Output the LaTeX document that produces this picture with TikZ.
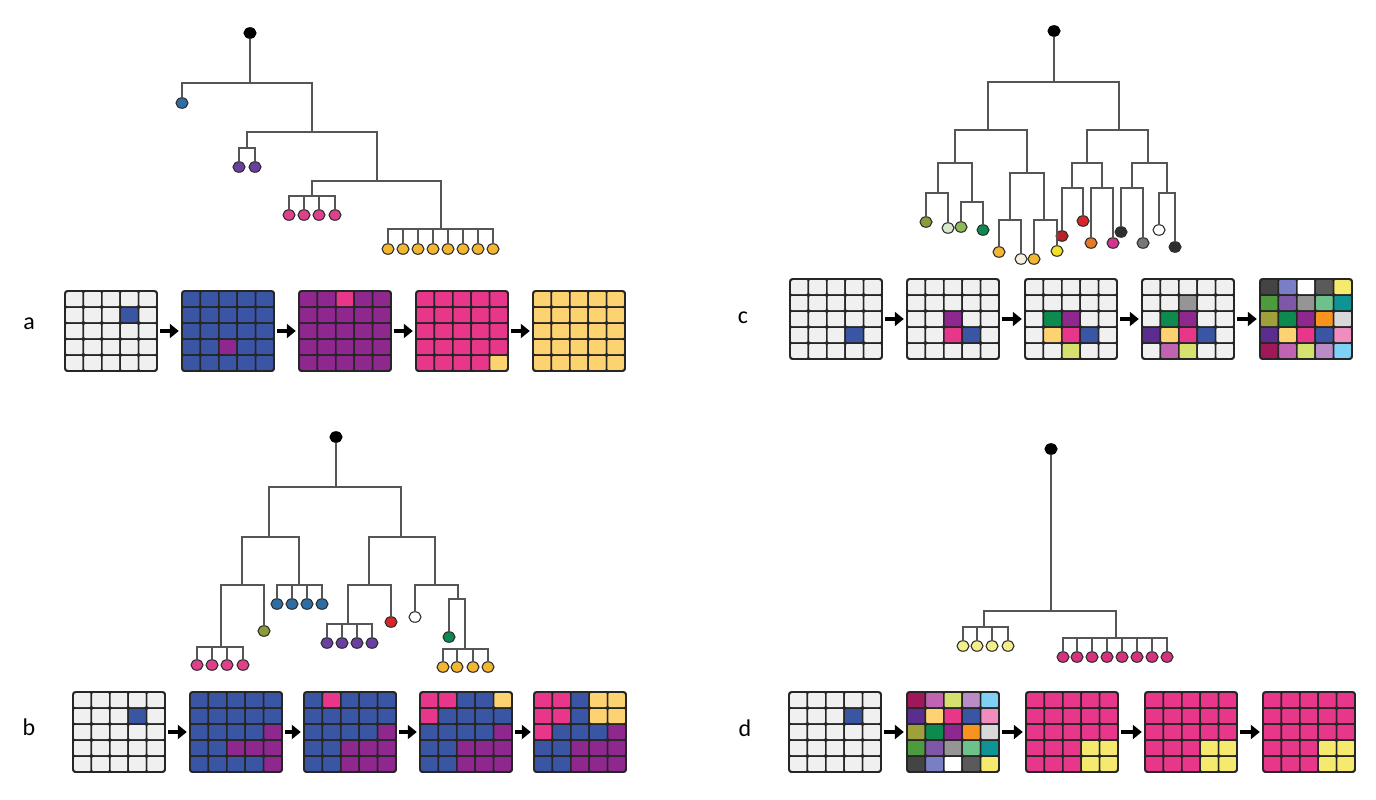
\documentclass[tikz,border=0pt]{standalone}
\usepackage{fontspec}
\setmainfont{Carlito}
\usetikzlibrary{arrows.meta,shapes.geometric}
\definecolor{cW}{HTML}{F0F0F0}
\definecolor{cB}{HTML}{3A55A4}
\definecolor{cP}{HTML}{8E278E}
\definecolor{cK}{HTML}{E8368A}
\definecolor{cO}{HTML}{FDD271}
\definecolor{cY}{HTML}{F5E96E}
\definecolor{cG}{HTML}{0D8A4E}
\definecolor{cL}{HTML}{D5E06E}
\definecolor{cR}{HTML}{959595}
\definecolor{cV}{HTML}{5B2D8E}
\definecolor{cM}{HTML}{C063B0}
\definecolor{cD}{HTML}{444444}
\definecolor{cJ}{HTML}{5A5A5A}
\definecolor{cA}{HTML}{7A7FC5}
\definecolor{cE}{HTML}{FFFFFF}
\definecolor{cF}{HTML}{4E9A3E}
\definecolor{cU}{HTML}{7E57A8}
\definecolor{cH}{HTML}{6CC28A}
\definecolor{cT}{HTML}{0E9494}
\definecolor{cI}{HTML}{9EA03A}
\definecolor{cN}{HTML}{F7931E}
\definecolor{cQ}{HTML}{D9D9D9}
\definecolor{cS}{HTML}{EE8DBE}
\definecolor{cZ}{HTML}{A0185A}
\definecolor{cC}{HTML}{B98CC8}
\definecolor{cX}{HTML}{7FD0F5}
% leaf colours
\definecolor{lBlue}{HTML}{2E6DA4}
\definecolor{lPurp}{HTML}{6B3FA0}
\definecolor{lPink}{HTML}{E0408A}
\definecolor{lGold}{HTML}{F2B630}
\definecolor{lOlive}{HTML}{8C9A3A}
\definecolor{lRed}{HTML}{D7262B}
\definecolor{lDRed}{HTML}{B8222A}
\definecolor{lGreen}{HTML}{0D8A4E}
\definecolor{lLGreen}{HTML}{8DBB5A}
\definecolor{lPale}{HTML}{D7E8CC}
\definecolor{lCream}{HTML}{F5F0E0}
\definecolor{lYel}{HTML}{F2E02C}
\definecolor{lOrange}{HTML}{E8782A}
\definecolor{lMag}{HTML}{D1338F}
\definecolor{lDark}{HTML}{2F2F2F}
\definecolor{lGrey}{HTML}{777777}
\definecolor{lPYel}{HTML}{F2EE8A}
\definecolor{lDPink}{HTML}{D6337F}
\definecolor{treeline}{HTML}{555555}
\definecolor{cellline}{HTML}{262626}

\newcommand{\cellgrid}[4]{%
  \node[gridbox] (#1) at (#2+46,#3+40) {};
  \foreach \qc [count=\qi from 0] in {#4}{%
    \pgfmathtruncatemacro\qr{\qi/5}%
    \pgfmathtruncatemacro\qk{mod(\qi,5)}%
    \draw[cell, fill=c\qc] ({#2+\qk*18.4},{#3+\qr*16}) rectangle ++(18.4,16);
  }
  \draw[gridout] (#2,#3) rectangle ++(92,80);
}

\begin{document}
\begin{tikzpicture}[x=1pt,y=-1pt,
  gridbox/.style={rectangle,minimum width=92pt,minimum height=80pt,inner sep=0pt},
  cell/.style={draw=cellline,line width=1.5pt,rounded corners=2pt},
  gridout/.style={draw=cellline,line width=1.8pt,rounded corners=3pt},
  flow/.style={-{Triangle[length=9pt,width=14pt]},line width=4.5pt,shorten <=3pt,shorten >=3pt},
  tl/.style={draw=treeline,line width=1.1pt},
  leaf/.style={ellipse,minimum width=12pt,minimum height=10.5pt,inner sep=0pt,draw=lDark,line width=1.1pt},
  root/.style={leaf,fill=black,draw=black},
  lab/.style={font=\fontsize{24}{28}\selectfont,inner sep=0pt}]
\useasboundingbox (0,0) rectangle (1376,800);

% ================= labels
\node[lab] (la) at (29,324) {a};
\node[lab] (lc) at (743,318) {c};
\node[lab] (lb) at (29,727) {b};
\node[lab] (ld) at (745,728) {d};

% ================= panel a grids
\cellgrid{a1}{65}{291}{W,W,W,W,W, W,W,W,B,W, W,W,W,W,W, W,W,W,W,W, W,W,W,W,W}
\cellgrid{a2}{182}{291}{B,B,B,B,B, B,B,B,B,B, B,B,B,B,B, B,B,P,B,B, B,B,B,B,B}
\cellgrid{a3}{299}{291}{P,P,K,P,P, P,P,P,P,P, P,P,P,P,P, P,P,P,P,P, P,P,P,P,P}
\cellgrid{a4}{416}{291}{K,K,K,K,K, K,K,K,K,K, K,K,K,K,K, K,K,K,K,K, K,K,K,K,O}
\cellgrid{a5}{533}{291}{O,O,O,O,O, O,O,O,O,O, O,O,O,O,O, O,O,O,O,O, O,O,O,O,O}
\draw[flow] (a1.east) -- (a2.west);
\draw[flow] (a2.east) -- (a3.west);
\draw[flow] (a3.east) -- (a4.west);
\draw[flow] (a4.east) -- (a5.west);

% ================= panel c grids
\cellgrid{c1}{790}{279}{W,W,W,W,W, W,W,W,W,W, W,W,W,W,W, W,W,W,B,W, W,W,W,W,W}
\cellgrid{c2}{907}{279}{W,W,W,W,W, W,W,W,W,W, W,W,P,W,W, W,W,K,B,W, W,W,W,W,W}
\cellgrid{c3}{1025}{279}{W,W,W,W,W, W,W,W,W,W, W,G,P,W,W, W,O,K,B,W, W,W,L,W,W}
\cellgrid{c4}{1142}{279}{W,W,W,W,W, W,W,R,W,W, W,G,P,W,W, V,O,K,B,W, W,M,L,W,W}
\cellgrid{c5}{1260}{279}{D,A,E,J,Y, F,U,R,H,T, I,G,P,N,Q, V,O,K,B,S, Z,M,L,C,X}
\draw[flow] (c1.east) -- (c2.west);
\draw[flow] (c2.east) -- (c3.west);
\draw[flow] (c3.east) -- (c4.west);
\draw[flow] (c4.east) -- (c5.west);

% ================= panel b grids
\cellgrid{b1}{73}{692}{W,W,W,W,W, W,W,W,B,W, W,W,W,W,W, W,W,W,W,W, W,W,W,W,W}
\cellgrid{b2}{190}{692}{B,B,B,B,B, B,B,B,B,B, B,B,B,B,P, B,B,P,P,P, B,B,B,B,P}
\cellgrid{b3}{304}{692}{B,K,B,B,B, B,B,B,B,B, B,B,B,B,P, B,B,P,P,P, B,B,P,P,P}
\cellgrid{b4}{420}{692}{K,K,B,B,O, K,B,B,B,B, B,B,B,B,P, B,B,P,P,P, B,B,P,P,P}
\cellgrid{b5}{534}{692}{K,K,B,O,O, K,K,B,O,O, K,B,B,B,P, B,B,P,P,P, B,B,P,P,P}
\draw[flow] (b1.east) -- (b2.west);
\draw[flow] (b2.east) -- (b3.west);
\draw[flow] (b3.east) -- (b4.west);
\draw[flow] (b4.east) -- (b5.west);

% ================= panel d grids
\cellgrid{d1}{789}{692}{W,W,W,W,W, W,W,W,B,W, W,W,W,W,W, W,W,W,W,W, W,W,W,W,W}
\cellgrid{d2}{907}{692}{Z,M,L,C,X, V,O,K,B,S, I,G,P,N,Q, F,U,R,H,T, D,A,E,J,Y}
\cellgrid{d3}{1026}{692}{K,K,K,K,K, K,K,K,K,K, K,K,K,K,K, K,K,K,Y,Y, K,K,K,Y,Y}
\cellgrid{d4}{1145}{692}{K,K,K,K,K, K,K,K,K,K, K,K,K,K,K, K,K,K,Y,Y, K,K,K,Y,Y}
\cellgrid{d5}{1263}{692}{K,K,K,K,K, K,K,K,K,K, K,K,K,K,K, K,K,K,Y,Y, K,K,K,Y,Y}
\draw[flow] (d1.east) -- (d2.west);
\draw[flow] (d2.east) -- (d3.west);
\draw[flow] (d3.east) -- (d4.west);
\draw[flow] (d4.east) -- (d5.west);

% ================= tree a
\node[root] (ar) at (250,33) {};
\coordinate (a0) at (250,83);
\coordinate (aA1) at (312,132);
\coordinate (aA2) at (247,148);
\coordinate (aA3) at (377,181);
\coordinate (aA4) at (312,196);
\coordinate (aA5) at (441,229);
\node[leaf,fill=lBlue] (aL1) at (182,103) {};
\node[leaf,fill=lPurp] (aP1) at (239,167) {};
\node[leaf,fill=lPurp] (aP2) at (255,167) {};
\foreach \x [count=\n] in {289,304,319,335}
  \node[leaf,fill=lPink] (aK\n) at (\x,215) {};
\foreach \x [count=\n] in {388,403,418,433,448,463,478,493}
  \node[leaf,fill=lGold] (aY\n) at (\x,249) {};
\draw[tl] (ar) -- (a0);
\draw[tl] (aL1) |- (a0);
\draw[tl] (aA1) |- (a0);
\draw[tl] (aA2) |- (aA1);
\draw[tl] (aA3) |- (aA1);
\draw[tl] (aP1) |- (aA2);
\draw[tl] (aP2) |- (aA2);
\draw[tl] (aA4) |- (aA3);
\draw[tl] (aA5) |- (aA3);
\foreach \n in {1,...,4} \draw[tl] (aK\n) |- (aA4);
\foreach \n in {1,...,8} \draw[tl] (aY\n) |- (aA5);

% ================= tree c
\node[root] (cr) at (1054,31) {};
\coordinate (c0) at (1054,82);
\coordinate (cL) at (988,130);
\coordinate (cR) at (1119,130);
\coordinate (cLL) at (955,163);
\coordinate (cLR) at (1027,173);
\coordinate (cLLL) at (938,193);
\coordinate (cLLR) at (972,202);
\coordinate (cLRL) at (1010,220);
\coordinate (cLRR) at (1044,220);
\coordinate (cRL) at (1087,163);
\coordinate (cRR) at (1148,163);
\coordinate (cRLL) at (1072,188);
\coordinate (cRLR) at (1102,188);
\coordinate (cRRL) at (1132,188);
\coordinate (cRRR) at (1167,193);
\node[leaf,fill=lOlive] (cl1) at (926,222) {};
\node[leaf,fill=lPale] (cl2) at (948,228) {};
\node[leaf,fill=lLGreen] (cl3) at (961,227) {};
\node[leaf,fill=lGreen] (cl4) at (983,230) {};
\node[leaf,fill=lGold] (cl5) at (999,252) {};
\node[leaf,fill=lCream] (cl6) at (1021,259) {};
\node[leaf,fill=lGold] (cl7) at (1034,259) {};
\node[leaf,fill=lYel] (cl8) at (1057,251) {};
\node[leaf,fill=lDRed] (cl9) at (1062,236) {};
\node[leaf,fill=lRed] (cl10) at (1083,221) {};
\node[leaf,fill=lOrange] (cl11) at (1091,243) {};
\node[leaf,fill=lMag] (cl12) at (1113,243) {};
\node[leaf,fill=lDark] (cl13) at (1121,232) {};
\node[leaf,fill=lGrey] (cl14) at (1143,243) {};
\node[leaf,fill=white] (cl15) at (1159,230) {};
\node[leaf,fill=lDark] (cl16) at (1175,247) {};
\draw[tl] (cr) -- (c0);
\draw[tl] (cL) |- (c0);  \draw[tl] (cR) |- (c0);
\draw[tl] (cLL) |- (cL); \draw[tl] (cLR) |- (cL);
\draw[tl] (cRL) |- (cR); \draw[tl] (cRR) |- (cR);
\draw[tl] (cLLL) |- (cLL); \draw[tl] (cLLR) |- (cLL);
\draw[tl] (cLRL) |- (cLR); \draw[tl] (cLRR) |- (cLR);
\draw[tl] (cRLL) |- (cRL); \draw[tl] (cRLR) |- (cRL);
\draw[tl] (cRRL) |- (cRR); \draw[tl] (cRRR) |- (cRR);
\draw[tl] (cl1) |- (cLLL); \draw[tl] (cl2) |- (cLLL);
\draw[tl] (cl3) |- (cLLR); \draw[tl] (cl4) |- (cLLR);
\draw[tl] (cl5) |- (cLRL); \draw[tl] (cl6) |- (cLRL);
\draw[tl] (cl7) |- (cLRR); \draw[tl] (cl8) |- (cLRR);
\draw[tl] (cl9) |- (cRLL); \draw[tl] (cl10) |- (cRLL);
\draw[tl] (cl11) |- (cRLR); \draw[tl] (cl12) |- (cRLR);
\draw[tl] (cl13) |- (cRRL); \draw[tl] (cl14) |- (cRRL);
\draw[tl] (cl15) |- (cRRR); \draw[tl] (cl16) |- (cRRR);

% ================= tree b
\node[root] (br) at (336,437) {};
\coordinate (b0) at (336,487);
\coordinate (bL) at (269,537);
\coordinate (bR) at (401,537);
\coordinate (bLL) at (242,585);
\coordinate (bLR) at (299,585);
\coordinate (bLLL) at (221,647);
\coordinate (bRL) at (369,585);
\coordinate (bRR) at (435,585);
\coordinate (bRLL) at (348,624);
\coordinate (bRRR) at (458,599);
\coordinate (bRRRR) at (465,649);
\foreach \x [count=\n] in {197,212,227,243}
  \node[leaf,fill=lPink] (bK\n) at (\x,665) {};
\node[leaf,fill=lOlive] (bOl) at (264,631) {};
\foreach \x [count=\n] in {277,292,307,322}
  \node[leaf,fill=lBlue] (bB\n) at (\x,604) {};
\foreach \x [count=\n] in {327,342,357,372}
  \node[leaf,fill=lPurp] (bP\n) at (\x,643) {};
\node[leaf,fill=lRed] (bRd) at (391,622) {};
\node[leaf,fill=white] (bWh) at (415,617) {};
\node[leaf,fill=lGreen] (bGr) at (449,637) {};
\foreach \x [count=\n] in {443,457,473,488}
  \node[leaf,fill=lGold] (bY\n) at (\x,667) {};
\draw[tl] (br) -- (b0);
\draw[tl] (bL) |- (b0); \draw[tl] (bR) |- (b0);
\draw[tl] (bLL) |- (bL); \draw[tl] (bLR) |- (bL);
\draw[tl] (bRL) |- (bR); \draw[tl] (bRR) |- (bR);
\draw[tl] (bLLL) |- (bLL); \draw[tl] (bOl) |- (bLL);
\foreach \n in {1,...,4} \draw[tl] (bK\n) |- (bLLL);
\foreach \n in {1,...,4} \draw[tl] (bB\n) |- (bLR);
\draw[tl] (bRLL) |- (bRL); \draw[tl] (bRd) |- (bRL);
\foreach \n in {1,...,4} \draw[tl] (bP\n) |- (bRLL);
\draw[tl] (bWh) |- (bRR); \draw[tl] (bRRR) |- (bRR);
\draw[tl] (bGr) |- (bRRR); \draw[tl] (bRRRR) |- (bRRR);
\foreach \n in {1,...,4} \draw[tl] (bY\n) |- (bRRRR);

% ================= tree d
\node[root] (dr) at (1051,449) {};
\coordinate (d0) at (1051,611);
\coordinate (dL) at (984,627);
\coordinate (dR) at (1116,638);
\foreach \x [count=\n] in {963,977,992,1008}
  \node[leaf,fill=lPYel] (dY\n) at (\x,646) {};
\foreach \x [count=\n] in {1063,1077,1092,1107,1122,1137,1152,1167}
  \node[leaf,fill=lDPink] (dK\n) at (\x,657) {};
\draw[tl] (dr) -- (d0);
\draw[tl] (dL) |- (d0); \draw[tl] (dR) |- (d0);
\foreach \n in {1,...,4} \draw[tl] (dY\n) |- (dL);
\foreach \n in {1,...,8} \draw[tl] (dK\n) |- (dR);
\end{tikzpicture}
\end{document}
